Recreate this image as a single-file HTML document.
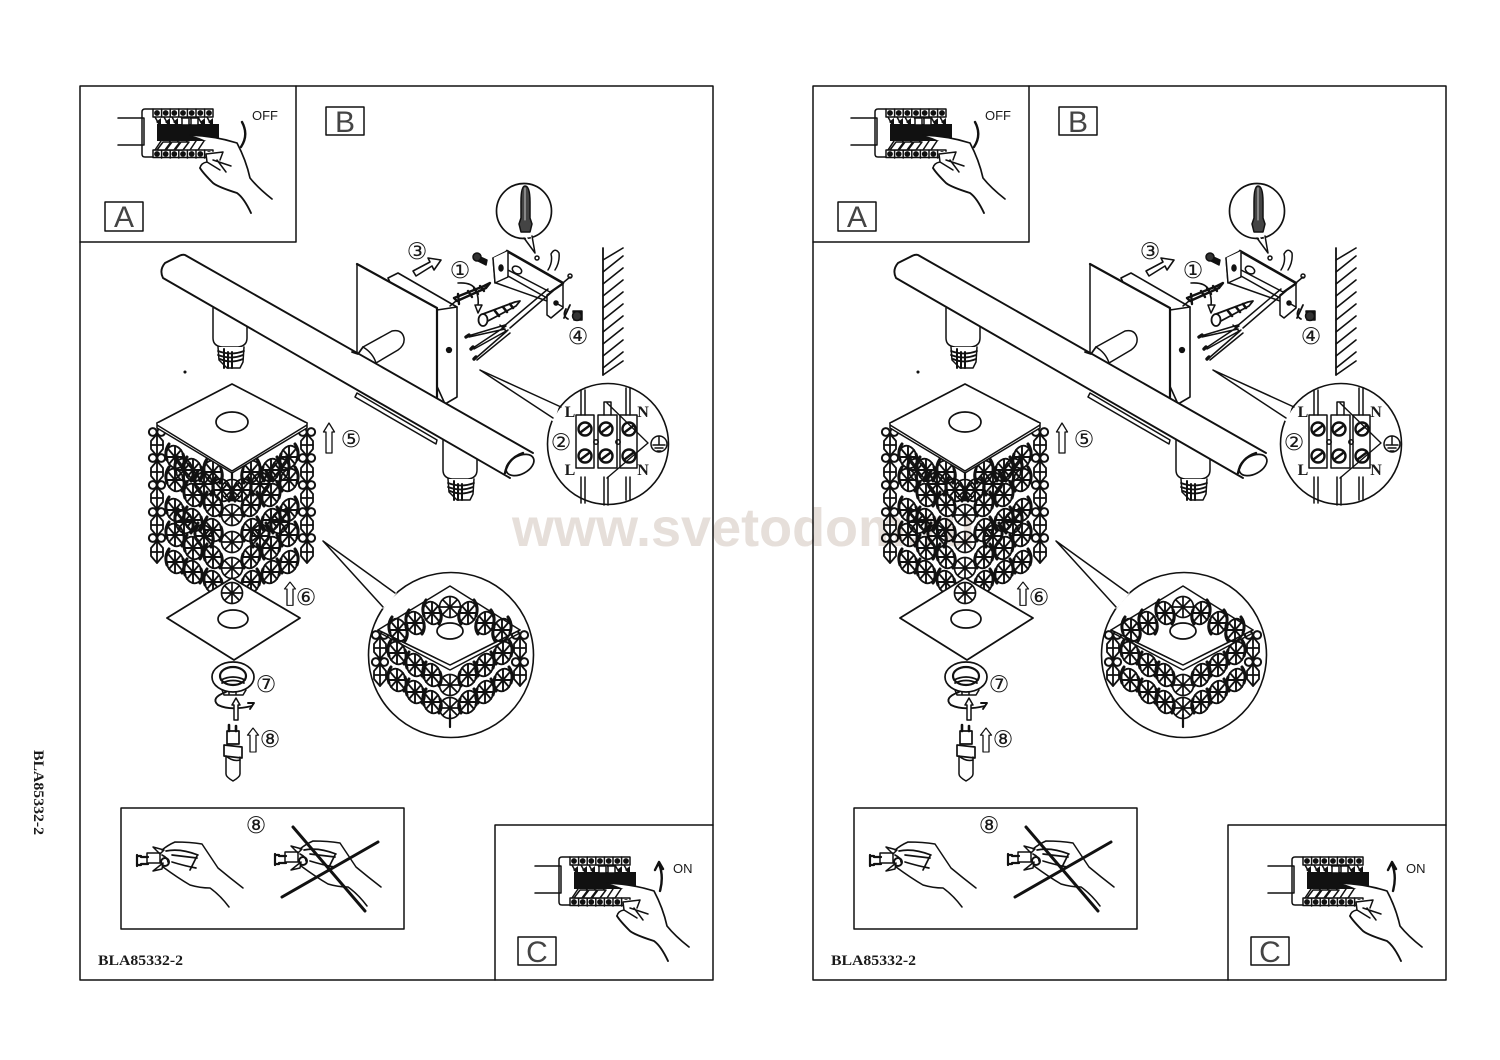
<!DOCTYPE html>
<html><head><meta charset="utf-8"><style>
html,body{margin:0;padding:0;background:#fff;width:1500px;height:1060px;overflow:hidden}
svg{display:block}
text{stroke:none;fill:#1a1a1a}
.lab{font-family:"Liberation Sans",sans-serif;font-size:30px;text-anchor:middle;fill:#444}
.num{font-family:"DejaVu Sans","Noto Sans CJK JP",sans-serif;font-size:23px;text-anchor:middle}
.ser{font-family:"Liberation Serif",serif;font-size:16px;text-anchor:middle;font-weight:bold}
.sw{font-family:"Liberation Sans",sans-serif;font-size:13px}
.code{font-family:"Liberation Serif","Liberation Mono",serif;font-size:14.5px;font-weight:bold}
</style></head><body>
<svg width="1500" height="1060" viewBox="0 0 1500 1060" xmlns="http://www.w3.org/2000/svg">
<defs>
<g id="k" fill="none" stroke="#111" stroke-width="1.7"><circle r="10.5"/><path d="M-10 0H10M0-10V10M-7-7L7 7M-7 7L7-7"/></g>
<g id="s" fill="none" stroke="#111" stroke-width="1.9"><ellipse rx="8.5" ry="11.5" transform="rotate(-18)"/><path d="M-8 0H8M0-11V11M-6-7L6 7M-6 7L6-7"/><path d="M-6-13Q-11-6-8 3M7 11Q11 5 8-3" stroke-width="3"/></g>
<g id="d" fill="none" stroke="#111" stroke-width="1.8"><path d="M0-11L6-4V4L0 11L-6 4V-4Z"/><path d="M-6 0H6M0-11V11"/></g>
<g id="r" fill="none" stroke="#111" stroke-width="2"><circle cx="-4.200" r="3.900"/><circle cx="4.200" r="3.900"/></g>
<g id="ch">
<use href="#r" y="432"/><use href="#d" y="445"/><use href="#r" y="458"/><use href="#d" y="472"/><use href="#r" y="485"/><use href="#d" y="498"/><use href="#r" y="512"/><use href="#d" y="525"/><use href="#r" y="538"/><use href="#d" y="552"/>
</g>
<g id="lh">
<use href="#ch" x="157"/>
<use href="#s" x="175" y="457"/><use href="#s" x="175" y="480"/><use href="#s" x="175" y="510"/><use href="#s" x="175" y="535"/><use href="#s" x="175" y="562"/>
<use href="#s" x="193" y="470"/><use href="#s" x="193" y="495"/><use href="#s" x="193" y="520"/><use href="#s" x="193" y="548"/><use href="#s" x="193" y="572"/>
<use href="#s" x="213" y="472"/><use href="#s" x="213" y="505"/><use href="#s" x="213" y="530"/><use href="#s" x="213" y="557"/><use href="#s" x="213" y="582"/>
<use href="#s" x="184" y="470"/><use href="#s" x="184" y="522"/><use href="#s" x="204" y="484"/><use href="#s" x="204" y="536"/><use href="#s" x="222" y="490"/>
</g>
<g id="brk" fill="none" stroke="#111" stroke-width="1.5">
<path d="M118 118H144V145H118"/>
<path d="M153 109H145Q142 109 142 112V154Q142 157 145 157H153"/>
<rect x="153" y="109" width="60" height="8"/><rect x="153" y="150" width="60" height="7.5"/>
<path d="M161.6 109v8M170.2 109v8M178.8 109v8M187.4 109v8M196 109v8M204.6 109v8M161.6 150v8M170.2 150v8M178.8 150v8M187.4 150v8M196 150v8M204.6 150v8"/>
<g fill="#111" stroke="none"><circle cx="157" cy="113" r="2.9"/><circle cx="165.700" cy="113" r="2.9"/><circle cx="174.300" cy="113" r="2.9"/><circle cx="183" cy="113" r="2.9"/><circle cx="191.700" cy="113" r="2.9"/><circle cx="200.300" cy="113" r="2.9"/><circle cx="209" cy="113" r="2.9"/><circle cx="157" cy="154" r="2.9"/><circle cx="165.700" cy="154" r="2.9"/><circle cx="174.300" cy="154" r="2.9"/><circle cx="183" cy="154" r="2.9"/><circle cx="191.700" cy="154" r="2.9"/><circle cx="200.300" cy="154" r="2.9"/><circle cx="209" cy="154" r="2.9"/>
<path d="M157 124H219V141H157Z"/><path d="M156 122l5-4v8zM165 122l5-4v8zM173 122l5-4v8zM200 122l5-4v8zM208 122l5-4v8z"/></g>
<path d="M155 117l5 9 M164 117l5 9M172 117l5 9M181 117l5 9M190 117l5 9M198 117l5 9M207 117l5 9M155 150l6-9M164 150l6-9M172 150l6-9M181 150l6-9M190 150l6-9M198 150l6-9"/>
<path d="M182 118h7v7h-7zM191 118h7v7h-7z" fill="#fff"/>
<path d="M157 150l6-8h8l-6 8zM166 150l6-8h8l-6 8zM175 150l6-8h8l-6 8z" fill="#fff"/>
<path d="M190 135Q215 136 237 143Q246 160 250 178Q258 188 272 199L251 213Q244 198 237 193Q218 187 213 183Q203 173 200 168Q201 163 207 162L206 152Q218 152 222 150Q208 140 190 135Z" fill="#fff" stroke="none"/>
<path d="M190 135Q215 136 237 143Q246 160 250 178Q258 188 272 199" stroke-width="1.7"/>
<path d="M200 168Q203 173 213 183Q218 187 237 193Q244 198 251 213" stroke-width="1.9"/>
<path d="M200 168Q201 163 207 162L206 154L223 152L220 160M207 162L220 170M213 160L231 166M217 160L226 172" />
</g>
<g id="arrU" fill="#fff" stroke="#111" stroke-width="1.3"><path d="M0 0L5.500 9H3V30H-3V9H-5.500Z"/></g>
<g id="sock" fill="none" stroke="#111" stroke-width="1.5">
<path d="M213 308V338Q213 346 222 347H238Q247 346 247 338V325" fill="#fff"/>
<path d="M218 347L219 360L227 368H240L243 362L244 347" fill="#fff"/>
<path d="M218 351Q231 356 244 351M218 355Q231 360 243 355M220 359Q231 364 243 359" stroke-width="1.8"/>
<path d="M224 349V368M228 352V368M232 352V368" stroke-width="2"/>
</g>
<g id="hnd" fill="none" stroke="#111" stroke-width="1.5">
<path d="M137 855V866M137 856H141M137 865H141M141 857H148M141 864H148" stroke-width="2.2"/>
<rect x="147" y="853" width="13" height="10"/>
<path d="M153 847L164 850L160 854ZM153 871L163 863L162 869Z"/>
<path d="M162 850Q168 845 175 842Q190 842 202 844Q210 856 218 868Q230 878 243 888" stroke-width="1.5"/>
<path d="M163 867Q178 878 190 885Q200 888 210 888Q220 895 229 907" stroke-width="1.5"/>
<path d="M166 851Q180 848 198 855M172 855L197 858M172 862Q185 866 196 868M197 856L190 870M162 855Q168 858 168 862" stroke-width="1.7"/>
<circle cx="165" cy="862" r="4" stroke-width="2"/>
</g>
<g id="pan" fill="none" stroke="#111" stroke-width="1.5" stroke-linejoin="round" stroke-linecap="round">
<rect x="80" y="86" width="633" height="894" stroke-width="1.5"/>
<path d="M80 242H296V86M495 980V825H713" stroke-width="1.5"/>
<rect x="326" y="107" width="38" height="28"/><rect x="105" y="202" width="38" height="29"/><rect x="518" y="937" width="38" height="28"/>
<rect x="121" y="808" width="283" height="121" stroke-width="1.5"/>
<use href="#brk"/><use href="#brk" x="417" y="748"/>
<path d="M242 122Q249 135 241 147" stroke-width="2.400"/><path d="M660 891Q664 876 659 864M655 870L659 862L663 869" stroke-width="2.400"/>
<circle cx="185" cy="372" r=".8" fill="#111"/>
<!-- wall -->
<path d="M603 248V375" stroke-width="1.800"/>
<path d="M603 260L623 248M603 272L623 256M603 284L623 268M603 296L623 280M603 308L623 292M603 320L623 304M603 332L623 316M603 344L623 328M603 356L623 340M603 368L623 352M603 375L623 361" stroke-width="1.600"/>
<!-- plate + box -->
<path d="M388 278L398 273L457 307V397L445 404Z" fill="#fff" stroke-width="1.6"/>
<path d="M357 264L437 308V400L357 355Z" fill="#fff"/>
<path d="M357 264L437 308V400" stroke-width="2.200"/>
<path d="M437 310L457 307M450 306L456 301"/><circle cx="449" cy="350" r="2.4" fill="#111"/>
<use href="#sock"/><use href="#sock" x="230" y="132"/>
<path d="M357 393L437 440L436 444L355 397Z" fill="#fff"/>
<!-- bar -->
<path d="M185 255L533 453L510 478L163 278Q158 270 163 264L177 257Q182 254 185 255Z" fill="#fff" stroke="#fff"/>
<path d="M533 453L185 255Q182 254 177 257L165 263Q159 270 163 278L510 478" stroke-width="1.9"/>
<ellipse cx="520" cy="465" rx="15" ry="9" transform="rotate(-28 520 465)" fill="#fff" stroke-width="1.7"/>
<path d="M505 473Q508 458 523 453" stroke-width="2.4"/>
<!-- cylinder -->
<path d="M363 347L392 331Q402 329 404 338Q405 345 398 350L376 363Q373 353 363 347Z" fill="#fff"/>
<path d="M352 352l6 2l5-7" stroke-width="1.8"/>
<!-- bracket -->
<path d="M493 258L507 251L563 283L550 292L508 270L495 283Z" fill="#fff"/>
<path d="M507 251L563 283" stroke-width="2.6"/><path d="M493 258L495 283L508 277V251" fill="#fff"/>
<path d="M508 276L547 298M496 283L547 301"/>
<ellipse cx="501" cy="268" rx="2" ry="3" fill="#111"/><ellipse cx="517" cy="270" rx="5" ry="3.500" transform="rotate(30 517 270)"/>
<path d="M547 295L563 284V308L551 318L547 315Z" fill="#fff"/><circle cx="556" cy="303" r="2" fill="#111"/>
<path d="M548 270Q553 262 551 254Q555 247 559 253Q560 262 555 270M564 282L570 277"/><circle cx="570" cy="276" r="2"/><circle cx="537" cy="258" r="2"/>
<path d="M476 255l11 5l-1 5l-10-5z" fill="#111"/><circle cx="477" cy="257" r="4" fill="#333"/>
<!-- magnifier -->
<circle cx="524" cy="211" r="27.500" stroke-width="1.7"/>
<path d="M526 237L535 253L531 235" stroke="#fff"/><path d="M524 238L535 253L532 236"/>
<path d="M525 186Q530 186 530 202V218L532 224L530 232H521L519 224L521 218V202Q521 186 525 186Z" fill="#444"/>
<path d="M525 188V220" stroke="#ccc" stroke-width="1"/>
<!-- screws and wires -->
<path d="M457 301L486 288L490 283L484 286L454 298Z" fill="#fff" stroke-width="2.400"/>
<path d="M458 294L459 304" stroke-width="2.400"/><path d="M468 291L472 297M474 288L478 294M480 286L484 291" stroke-width="2.400"/>
<path d="M483 314L515 302L520 301L516 306L486 322Z" fill="#fff" stroke-width="1.8"/>
<path d="M495 311L499 316M503 307L507 312M510 304L513 308" stroke-width="2.600"/><ellipse cx="483" cy="320" rx="4.500" ry="6" fill="#fff" stroke-width="1.8"/>
<path d="M503 327L548 289M510 328L553 291M500 325L506 331" stroke-width="1.5"/>
<path d="M468 336L505 325M469 337L505 329M473 348L506 326M474 349L508 330M476 358L507 331M477 360L510 333"/>
<path d="M469 335l-3 2M473 347l-2 2M476 357l-2 2" stroke-width="3.400"/>
<path d="M458 283Q472 282 476 290Q479 298 478 306" stroke-width="1.6"/><path d="M476 305H482L478 313L475 305" fill="#fff"/>
<path d="M413 271L430 262L428 258L441 260L434 270L432 266L416 276Z" fill="#fff" stroke-width="1.6"/>
<path d="M566 309Q562 316 568 319M570 305L564 318" stroke-width="1.8"/>
<path d="M573 311H582V320H574Z" fill="#111"/><circle cx="577" cy="316" r="4.500" fill="#333"/>
<path d="M556 303L563 307"/>
<!-- connector circle -->
<circle cx="608" cy="444" r="60.500" stroke-width="1.6"/>
<path d="M480 370L557 406L553 419Z" fill="#fff" stroke="#fff" stroke-width="4"/>
<path d="M480 370L561 407M480 370L553 418" stroke-width="1.5"/>
<path d="M581 390V415M585 390V415M626 388V415M630 388V415M604 402H611V415M604 402V415M581 477V503M585 477V503M604 477V505M608 477V505M626 477V500M630 477V500" stroke-width="1.5"/>
<rect x="576" y="415" width="18" height="53"/><rect x="598" y="415" width="19" height="53"/><rect x="620" y="415" width="17" height="53"/>
<circle cx="596" cy="442" r="2.200"/><circle cx="618" cy="442" r="2.200"/>
<g fill="#fff" stroke-width="2.400"><circle cx="585" cy="429" r="6.500"/><circle cx="606" cy="429" r="6.500"/><circle cx="629" cy="429" r="6.500"/><circle cx="585" cy="456" r="6.500"/><circle cx="606" cy="456" r="6.500"/><circle cx="629" cy="456" r="6.500"/></g>
<path d="M581 432L589 426M602 432L610 426M625 432L633 426M581 459L589 453M602 459L610 453M625 459L633 453" stroke-width="2.400"/>
<path d="M607 403L648 443L607 478" stroke-width="1.4"/>
<circle cx="659" cy="444" r="8"/><path d="M659 436V445M653 445H665M655 448H663M657 451H661"/>
<!-- crystal -->
<use href="#lh"/>
<use href="#lh" transform="translate(464 0) scale(-1 1)"/>
<use href="#k" x="232" y="490"/><use href="#k" x="232" y="515"/><use href="#k" x="232" y="542"/><use href="#k" x="232" y="568"/>
<path d="M232 467V478" stroke-width="2.200"/>
<path d="M232 384L307 423L232 467L157 423Z" fill="#fff" stroke-width="1.7"/>
<path d="M157 425L232 471L307 425M157 423V428L232 473L307 428V423" fill="#fff"/>
<ellipse cx="232" cy="422" rx="16" ry="10" fill="#fff" stroke-width="1.7"/>
<path d="M232 578L300 618L234 660L167 618Z" fill="#fff" stroke-width="1.800"/>
<use href="#k" x="232" y="593"/>
<ellipse cx="233" cy="619" rx="15" ry="9" stroke-width="1.7"/>
<use href="#arrU" x="329" y="423"/><use href="#arrU" transform="translate(290 582) scale(1 .78)"/>
<!-- ring + lamp -->
<ellipse cx="233" cy="677" rx="21" ry="15" fill="#fff" stroke-width="1.7"/>
<ellipse cx="233" cy="676" rx="13" ry="9" stroke-width="2.200"/><path d="M221 680Q233 674 245 680M222 683Q233 678 244 683" stroke-width="1.8"/>
<path d="M222 690L224 695H243L246 690M229 692V695M236 692V695"/>
<path d="M226 692Q210 698 218 705Q230 711 252 706" stroke-width="1.9"/><path d="M248 703L254 703L250 709" stroke-width="1.9"/>
<path d="M236 698L240 705H238V720H234V705H232Z" fill="#fff"/>
<path d="M229 725V731M236 726V731" stroke-width="2.600"/>
<rect x="227" y="731" width="12" height="13" stroke-width="1.7"/>
<path d="M224 745L242 747V758L224 756Z" fill="#fff" stroke-width="1.7"/><path d="M226 756V774Q226 777 233 781Q240 777 240 774V757"/>
<path d="M226 756Q233 762 240 760"/>
<use href="#arrU" transform="translate(253 728) scale(1 .8)"/>
<!-- zoom circle -->
<circle cx="451" cy="655" r="82.500" stroke-width="1.6"/>
<path d="M323 541L395 593L383 607Z" fill="#fff" stroke="#fff" stroke-width="3"/>
<path d="M323 541L395 593M323 541L383 607" stroke-width="1.5"/>
<use href="#s" x="397" y="680"/><use href="#s" x="415" y="692"/><use href="#s" x="432" y="702"/><use href="#k" x="450" y="708"/>
<use href="#s" x="397" y="653"/><use href="#s" x="415" y="665"/><use href="#s" x="432" y="675"/><use href="#k" x="450" y="685"/>
<use href="#s" transform="translate(900 0) scale(-1 1)" x="397" y="680"/><use href="#s" transform="translate(900 0) scale(-1 1)" x="415" y="692"/><use href="#s" transform="translate(900 0) scale(-1 1)" x="432" y="702"/>
<use href="#s" transform="translate(900 0) scale(-1 1)" x="397" y="653"/><use href="#s" transform="translate(900 0) scale(-1 1)" x="415" y="665"/><use href="#s" transform="translate(900 0) scale(-1 1)" x="432" y="675"/>
<use href="#r" x="380" y="635"/><use href="#d" x="380" y="648"/><use href="#r" x="380" y="662"/><use href="#d" x="380" y="675"/>
<use href="#r" x="520" y="635"/><use href="#d" x="520" y="648"/><use href="#r" x="520" y="662"/><use href="#d" x="520" y="675"/>
<path d="M450 586L520 630L450 665L378 630Z" fill="#fff"/>
<use href="#k" x="450" y="607"/>
<use href="#s" x="432" y="613"/><use href="#s" x="415" y="623"/><use href="#s" x="398" y="630"/>
<use href="#s" transform="translate(900 0) scale(-1 1)" x="432" y="613"/><use href="#s" transform="translate(900 0) scale(-1 1)" x="415" y="623"/><use href="#s" transform="translate(900 0) scale(-1 1)" x="398" y="630"/>
<path d="M450 639L412 642L450 665L488 642Z" fill="#fff" stroke="#fff"/>
<path d="M378 630L450 665L520 630M382 634L450 670L518 634" stroke-width="1.5"/>
<ellipse cx="450" cy="631" rx="13" ry="8" fill="#fff" stroke-width="1.7"/>
<path d="M450 715V727" stroke-width="2.200"/>
<!-- bottom box hands -->
<use href="#hnd"/><use href="#hnd" x="138" y="-1"/>
<path d="M293 827L365 911M378 842L282 897" stroke-width="3"/>
</g>
</defs>

<use href="#pan"/>
<use href="#pan" x="733"/>

<g>
<text class="lab" x="345" y="132">B</text><text class="lab" x="124" y="227">A</text><text class="lab" x="537" y="962">C</text>
<text class="sw" x="252" y="120">OFF</text><text class="sw" x="673" y="873">ON</text>
<text class="num" x="417" y="259">③</text><text class="num" x="460" y="278">①</text><text class="num" x="578" y="344">④</text>
<text class="num" x="351" y="447">⑤</text><text class="num" x="306" y="605">⑥</text><text class="num" x="266" y="692">⑦</text><text class="num" x="270" y="747">⑧</text><text class="num" x="256" y="833">⑧</text><text class="num" x="561" y="450">②</text>
<text class="ser" x="570" y="417">L</text><text class="ser" x="643" y="417">N</text><text class="ser" x="570" y="475">L</text><text class="ser" x="643" y="475">N</text>
<text class="code" x="98" y="965" textLength="85" lengthAdjust="spacingAndGlyphs">BLA85332-2</text>
</g>
<g transform="translate(733 0)">
<text class="lab" x="345" y="132">B</text><text class="lab" x="124" y="227">A</text><text class="lab" x="537" y="962">C</text>
<text class="sw" x="252" y="120">OFF</text><text class="sw" x="673" y="873">ON</text>
<text class="num" x="417" y="259">③</text><text class="num" x="460" y="278">①</text><text class="num" x="578" y="344">④</text>
<text class="num" x="351" y="447">⑤</text><text class="num" x="306" y="605">⑥</text><text class="num" x="266" y="692">⑦</text><text class="num" x="270" y="747">⑧</text><text class="num" x="256" y="833">⑧</text><text class="num" x="561" y="450">②</text>
<text class="ser" x="570" y="417">L</text><text class="ser" x="643" y="417">N</text><text class="ser" x="570" y="475">L</text><text class="ser" x="643" y="475">N</text>
<text class="code" x="98" y="965" textLength="85" lengthAdjust="spacingAndGlyphs">BLA85332-2</text>
</g>
<text class="code" transform="translate(34 750) rotate(90)" textLength="85" lengthAdjust="spacingAndGlyphs">BLA85332-2</text>
<text x="512" y="546" style="font-family:'Liberation Sans',sans-serif;font-weight:bold;font-size:54px;fill:#e6dfda;mix-blend-mode:multiply">www.svetodom.ru</text>
</svg>
</body></html>
